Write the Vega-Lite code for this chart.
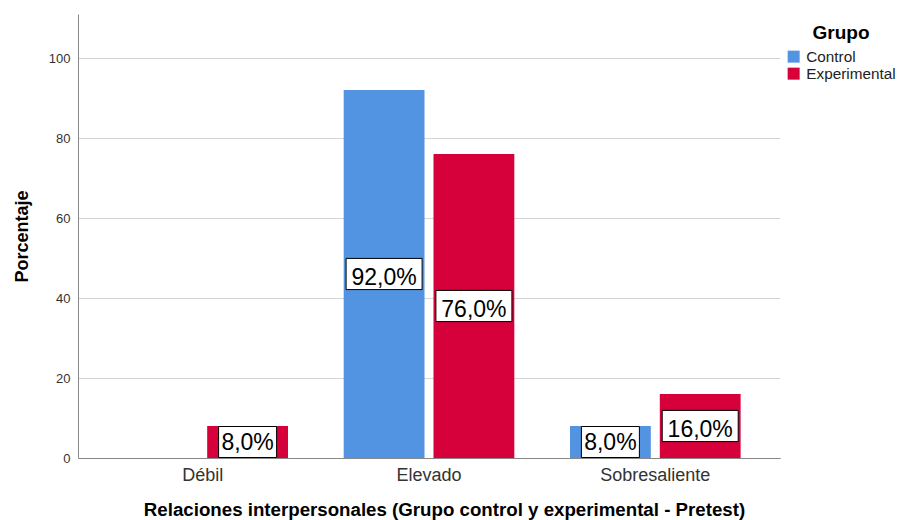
{
  "$schema": "https://vega.github.io/schema/vega-lite/v6.json",
  "width": 702,
  "height": 444,
  "autosize": {"type": "none"},
  "padding": {"left": 78, "top": 14, "right": 119, "bottom": 62},
  "background": "white",
  "config": {
    "font": "Liberation Sans",
    "view": {"stroke": null}
  },
  "data": {
    "values": [
      {"Categoria": "Débil", "Grupo": "Experimental", "Valor": 8, "Etiqueta": "8,0%"},
      {"Categoria": "Elevado", "Grupo": "Control", "Valor": 92, "Etiqueta": "92,0%"},
      {"Categoria": "Elevado", "Grupo": "Experimental", "Valor": 76, "Etiqueta": "76,0%"},
      {"Categoria": "Sobresaliente", "Grupo": "Control", "Valor": 8, "Etiqueta": "8,0%"},
      {"Categoria": "Sobresaliente", "Grupo": "Experimental", "Valor": 16, "Etiqueta": "16,0%"}
    ]
  },
  "encoding": {
    "x": {
      "field": "Categoria",
      "type": "nominal",
      "sort": ["Débil", "Elevado", "Sobresaliente"],
      "scale": {"domain": ["Débil", "Elevado", "Sobresaliente"], "paddingInner": 0.246, "paddingOuter": 0.174},
      "axis": {
        "title": "Relaciones interpersonales (Grupo control y experimental - Pretest)",
        "titleFontSize": 18.7,
        "titleFontWeight": "bold",
        "titleColor": "black",
        "titleX": 366,
        "titleY": 57,
        "titleBaseline": "alphabetic",
        "labelAngle": 0,
        "labelFontSize": 18,
        "labelColor": "#333333",
        "labelPadding": 8,
        "ticks": false,
        "tickSize": 0,
        "domainColor": "#888888",
        "domainWidth": 1
      }
    },
    "xOffset": {
      "field": "Grupo",
      "type": "nominal",
      "scale": {"domain": ["Control", "Experimental"], "paddingInner": 0.1, "paddingOuter": 0}
    }
  },
  "resolve": {"scale": {"y": "independent"}},
  "layer": [
    {
      "mark": {"type": "bar"},
      "encoding": {
        "y": {
          "field": "Valor",
          "type": "quantitative",
          "scale": {"domain": [0, 111], "nice": false},
          "axis": {
            "title": "Porcentaje",
            "titleFontSize": 18,
            "titleFontWeight": "bold",
            "titleColor": "black",
            "titleX": -56,
            "titleY": 222,
            "titleBaseline": "middle",
            "values": [0, 20, 40, 60, 80, 100],
            "labelFontSize": 13,
            "labelColor": "#333333",
            "labelPadding": 8,
            "ticks": false,
            "tickSize": 0,
            "grid": true,
            "gridColor": "#d4d4d4",
            "domainColor": "#888888",
            "domainWidth": 1
          }
        },
        "color": {
          "field": "Grupo",
          "type": "nominal",
          "scale": {"domain": ["Control", "Experimental"], "range": ["#5294E2", "#D6003A"]},
          "legend": {
            "title": "Grupo",
            "orient": "none",
            "legendX": 708,
            "legendY": 10,
            "titleFontSize": 19,
            "titleFontWeight": "bold",
            "titleColor": "black",
            "titleAnchor": "middle",
            "titlePadding": 6,
            "labelFontSize": 15.3,
            "labelColor": "#222222",
            "labelOffset": 5,
            "symbolType": "square",
            "symbolSize": 144,
            "symbolStrokeWidth": 0,
            "rowPadding": 1
          }
        }
      }
    },
    {
      "transform": [{"filter": "datum.Valor >= 10"}],
      "mark": {"type": "point", "shape": "M-1,-0.41H1V0.41H-1Z", "size": 5776, "filled": true, "fill": "white", "stroke": "black", "strokeWidth": 1, "opacity": 1, "dy": 3},
      "encoding": {
        "y": {"field": "Valor", "type": "quantitative", "scale": {"domain": [0, 222], "nice": false}, "axis": null}
      }
    },
    {
      "transform": [{"filter": "datum.Valor < 10"}],
      "mark": {"type": "point", "shape": "M-1,-0.534H1V0.534H-1Z", "size": 3364, "filled": true, "fill": "white", "stroke": "black", "strokeWidth": 1, "opacity": 1},
      "encoding": {
        "y": {"field": "Valor", "type": "quantitative", "scale": {"domain": [0, 222], "nice": false}, "axis": null}
      }
    },
    {
      "transform": [{"filter": "datum.Valor >= 10"}],
      "mark": {"type": "text", "fontSize": 23, "color": "black", "baseline": "middle", "align": "center", "dy": 4},
      "encoding": {
        "y": {"field": "Valor", "type": "quantitative", "scale": {"domain": [0, 222], "nice": false}, "axis": null},
        "text": {"field": "Etiqueta", "type": "nominal"}
      }
    },
    {
      "transform": [{"filter": "datum.Valor < 10"}],
      "mark": {"type": "text", "fontSize": 23, "color": "black", "baseline": "middle", "align": "center", "dy": 1},
      "encoding": {
        "y": {"field": "Valor", "type": "quantitative", "scale": {"domain": [0, 222], "nice": false}, "axis": null},
        "text": {"field": "Etiqueta", "type": "nominal"}
      }
    }
  ]
}
